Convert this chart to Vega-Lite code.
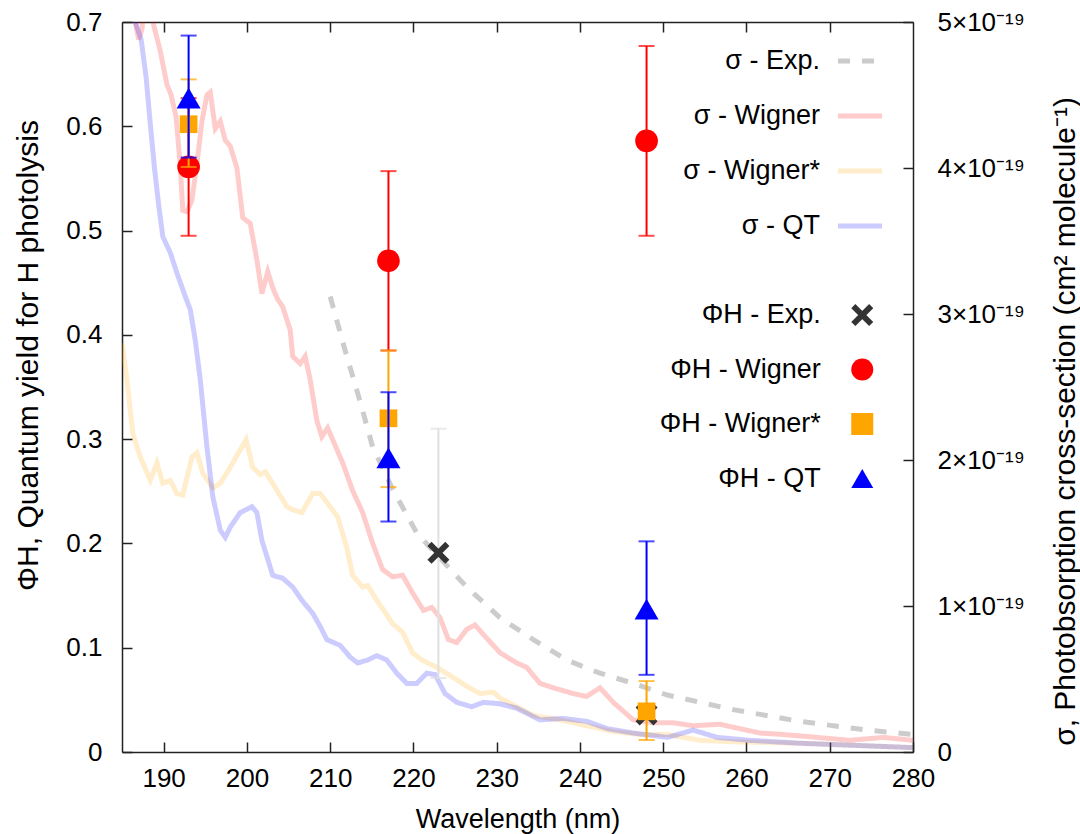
{
  "$schema": "https://vega.github.io/schema/vega-lite/v6.json",
  "width": 791,
  "height": 730,
  "autosize": {"type": "none"},
  "padding": {"left": 122, "top": 22, "right": 167, "bottom": 82},
  "background": "white",
  "config": {
    "view": {"stroke": null},
    "font": "Liberation Sans",
    "axis": {
      "grid": false,
      "domainColor": "#222222",
      "domainWidth": 1.5,
      "tickColor": "#222222",
      "tickWidth": 1.5,
      "tickSize": -10,
      "labelColor": "#000000",
      "labelFont": "Liberation Sans",
      "labelFontSize": 26,
      "titleFont": "Liberation Sans",
      "titleFontSize": 30,
      "titleFontWeight": "normal",
      "titleColor": "#000000",
      "labelFlush": false,
      "labelOverlap": false
    },
    "legend": {
      "labelFont": "Liberation Sans",
      "labelFontSize": 27,
      "labelColor": "#000000",
      "labelAlign": "right",
      "padding": 0,
      "labelLimit": 400
    }
  },
  "resolve": {
    "scale": {"y": "independent", "color": "independent", "shape": "independent", "strokeDash": "independent"},
    "axis": {"x": "independent", "y": "independent"},
    "legend": {"color": "independent", "shape": "independent", "strokeDash": "independent"}
  },
  "layer": [
    {
      "data": {"values": [
        {"series": "σ - Exp.", "nm": 210.0, "s": 3.12},
        {"series": "σ - Exp.", "nm": 211.8, "s": 2.75},
        {"series": "σ - Exp.", "nm": 213.6, "s": 2.40},
        {"series": "σ - Exp.", "nm": 215.1, "s": 2.09},
        {"series": "σ - Exp.", "nm": 217.5, "s": 1.80},
        {"series": "σ - Exp.", "nm": 220.4, "s": 1.50},
        {"series": "σ - Exp.", "nm": 223.0, "s": 1.34},
        {"series": "σ - Exp.", "nm": 226.4, "s": 1.13},
        {"series": "σ - Exp.", "nm": 230.4, "s": 0.92},
        {"series": "σ - Exp.", "nm": 234.4, "s": 0.77},
        {"series": "σ - Exp.", "nm": 238.4, "s": 0.63},
        {"series": "σ - Exp.", "nm": 242.4, "s": 0.54},
        {"series": "σ - Exp.", "nm": 246.4, "s": 0.47},
        {"series": "σ - Exp.", "nm": 250.5, "s": 0.39},
        {"series": "σ - Exp.", "nm": 258.4, "s": 0.29},
        {"series": "σ - Exp.", "nm": 266.4, "s": 0.21},
        {"series": "σ - Exp.", "nm": 274.5, "s": 0.15},
        {"series": "σ - Exp.", "nm": 280.0, "s": 0.12},

        {"series": "σ - Wigner", "nm": 185.0, "s": 5.6},
        {"series": "σ - Wigner", "nm": 186.0, "s": 5.2},
        {"series": "σ - Wigner", "nm": 186.6, "s": 5.0},
        {"series": "σ - Wigner", "nm": 187.0, "s": 4.88},
        {"series": "σ - Wigner", "nm": 187.4, "s": 4.95},
        {"series": "σ - Wigner", "nm": 187.9, "s": 5.25},
        {"series": "σ - Wigner", "nm": 188.4, "s": 5.15},
        {"series": "σ - Wigner", "nm": 188.8, "s": 4.98},
        {"series": "σ - Wigner", "nm": 189.6, "s": 4.80},
        {"series": "σ - Wigner", "nm": 190.4, "s": 4.57},
        {"series": "σ - Wigner", "nm": 190.9, "s": 4.50},
        {"series": "σ - Wigner", "nm": 191.5, "s": 4.35},
        {"series": "σ - Wigner", "nm": 192.0, "s": 4.01},
        {"series": "σ - Wigner", "nm": 192.3, "s": 3.71},
        {"series": "σ - Wigner", "nm": 192.8, "s": 3.70},
        {"series": "σ - Wigner", "nm": 193.4, "s": 3.78},
        {"series": "σ - Wigner", "nm": 194.0, "s": 4.03},
        {"series": "σ - Wigner", "nm": 194.6, "s": 4.32},
        {"series": "σ - Wigner", "nm": 195.2, "s": 4.50},
        {"series": "σ - Wigner", "nm": 195.6, "s": 4.52},
        {"series": "σ - Wigner", "nm": 196.2, "s": 4.27},
        {"series": "σ - Wigner", "nm": 196.8, "s": 4.32},
        {"series": "σ - Wigner", "nm": 197.4, "s": 4.19},
        {"series": "σ - Wigner", "nm": 198.0, "s": 4.15},
        {"series": "σ - Wigner", "nm": 198.8, "s": 4.00},
        {"series": "σ - Wigner", "nm": 199.5, "s": 3.66},
        {"series": "σ - Wigner", "nm": 200.4, "s": 3.62},
        {"series": "σ - Wigner", "nm": 201.2, "s": 3.37},
        {"series": "σ - Wigner", "nm": 201.8, "s": 3.14},
        {"series": "σ - Wigner", "nm": 202.5, "s": 3.29},
        {"series": "σ - Wigner", "nm": 203.1, "s": 3.18},
        {"series": "σ - Wigner", "nm": 203.7, "s": 3.10},
        {"series": "σ - Wigner", "nm": 204.3, "s": 3.05},
        {"series": "σ - Wigner", "nm": 205.2, "s": 2.89},
        {"series": "σ - Wigner", "nm": 205.5, "s": 2.71},
        {"series": "σ - Wigner", "nm": 206.4, "s": 2.66},
        {"series": "σ - Wigner", "nm": 207.0, "s": 2.71},
        {"series": "σ - Wigner", "nm": 207.6, "s": 2.55},
        {"series": "σ - Wigner", "nm": 208.4, "s": 2.27},
        {"series": "σ - Wigner", "nm": 209.0, "s": 2.16},
        {"series": "σ - Wigner", "nm": 209.7, "s": 2.22},
        {"series": "σ - Wigner", "nm": 210.3, "s": 2.14},
        {"series": "σ - Wigner", "nm": 211.5, "s": 1.98},
        {"series": "σ - Wigner", "nm": 212.7, "s": 1.79},
        {"series": "σ - Wigner", "nm": 213.9, "s": 1.64},
        {"series": "σ - Wigner", "nm": 215.1, "s": 1.43},
        {"series": "σ - Wigner", "nm": 216.3, "s": 1.25},
        {"series": "σ - Wigner", "nm": 217.5, "s": 1.20},
        {"series": "σ - Wigner", "nm": 218.7, "s": 1.21},
        {"series": "σ - Wigner", "nm": 219.9, "s": 1.09},
        {"series": "σ - Wigner", "nm": 221.2, "s": 0.97},
        {"series": "σ - Wigner", "nm": 222.2, "s": 0.99},
        {"series": "σ - Wigner", "nm": 223.2, "s": 0.92},
        {"series": "σ - Wigner", "nm": 224.2, "s": 0.77},
        {"series": "σ - Wigner", "nm": 225.2, "s": 0.75},
        {"series": "σ - Wigner", "nm": 226.4, "s": 0.84},
        {"series": "σ - Wigner", "nm": 227.4, "s": 0.87},
        {"series": "σ - Wigner", "nm": 228.8, "s": 0.78},
        {"series": "σ - Wigner", "nm": 230.4, "s": 0.68},
        {"series": "σ - Wigner", "nm": 232.4, "s": 0.61},
        {"series": "σ - Wigner", "nm": 233.6, "s": 0.58},
        {"series": "σ - Wigner", "nm": 235.2, "s": 0.47},
        {"series": "σ - Wigner", "nm": 236.8, "s": 0.44},
        {"series": "σ - Wigner", "nm": 239.2, "s": 0.40},
        {"series": "σ - Wigner", "nm": 240.8, "s": 0.38},
        {"series": "σ - Wigner", "nm": 242.4, "s": 0.44},
        {"series": "σ - Wigner", "nm": 244.0, "s": 0.34},
        {"series": "σ - Wigner", "nm": 246.4, "s": 0.22},
        {"series": "σ - Wigner", "nm": 248.8, "s": 0.20},
        {"series": "σ - Wigner", "nm": 251.2, "s": 0.20},
        {"series": "σ - Wigner", "nm": 253.6, "s": 0.18},
        {"series": "σ - Wigner", "nm": 256.8, "s": 0.19},
        {"series": "σ - Wigner", "nm": 258.4, "s": 0.17},
        {"series": "σ - Wigner", "nm": 261.6, "s": 0.13},
        {"series": "σ - Wigner", "nm": 264.4, "s": 0.12},
        {"series": "σ - Wigner", "nm": 268.5, "s": 0.10},
        {"series": "σ - Wigner", "nm": 272.4, "s": 0.08},
        {"series": "σ - Wigner", "nm": 276.4, "s": 0.10},
        {"series": "σ - Wigner", "nm": 280.0, "s": 0.08},

        {"series": "σ - Wigner*", "nm": 185.0, "s": 2.80},
        {"series": "σ - Wigner*", "nm": 185.6, "s": 2.55},
        {"series": "σ - Wigner*", "nm": 186.3, "s": 2.18},
        {"series": "σ - Wigner*", "nm": 187.2, "s": 2.02},
        {"series": "σ - Wigner*", "nm": 188.4, "s": 1.86},
        {"series": "σ - Wigner*", "nm": 189.2, "s": 1.98},
        {"series": "σ - Wigner*", "nm": 189.9, "s": 1.84},
        {"series": "σ - Wigner*", "nm": 190.8, "s": 1.86},
        {"series": "σ - Wigner*", "nm": 191.6, "s": 1.77},
        {"series": "σ - Wigner*", "nm": 192.3, "s": 1.76},
        {"series": "σ - Wigner*", "nm": 193.4, "s": 2.02},
        {"series": "σ - Wigner*", "nm": 194.0, "s": 2.05},
        {"series": "σ - Wigner*", "nm": 194.7, "s": 1.91},
        {"series": "σ - Wigner*", "nm": 195.9, "s": 1.81},
        {"series": "σ - Wigner*", "nm": 196.8, "s": 1.84},
        {"series": "σ - Wigner*", "nm": 198.0, "s": 1.95},
        {"series": "σ - Wigner*", "nm": 199.2, "s": 2.07},
        {"series": "σ - Wigner*", "nm": 199.9, "s": 2.14},
        {"series": "σ - Wigner*", "nm": 200.7, "s": 1.95},
        {"series": "σ - Wigner*", "nm": 201.6, "s": 1.90},
        {"series": "σ - Wigner*", "nm": 202.2, "s": 1.92},
        {"series": "σ - Wigner*", "nm": 203.1, "s": 1.84},
        {"series": "σ - Wigner*", "nm": 204.8, "s": 1.68},
        {"series": "σ - Wigner*", "nm": 205.5, "s": 1.66},
        {"series": "σ - Wigner*", "nm": 206.6, "s": 1.64},
        {"series": "σ - Wigner*", "nm": 207.9, "s": 1.77},
        {"series": "σ - Wigner*", "nm": 208.8, "s": 1.77},
        {"series": "σ - Wigner*", "nm": 210.0, "s": 1.68},
        {"series": "σ - Wigner*", "nm": 210.9, "s": 1.61},
        {"series": "σ - Wigner*", "nm": 212.0, "s": 1.40},
        {"series": "σ - Wigner*", "nm": 212.7, "s": 1.21},
        {"series": "σ - Wigner*", "nm": 213.9, "s": 1.13},
        {"series": "σ - Wigner*", "nm": 214.5, "s": 1.14},
        {"series": "σ - Wigner*", "nm": 215.6, "s": 1.04},
        {"series": "σ - Wigner*", "nm": 217.5, "s": 0.88},
        {"series": "σ - Wigner*", "nm": 218.7, "s": 0.82},
        {"series": "σ - Wigner*", "nm": 219.9, "s": 0.68},
        {"series": "σ - Wigner*", "nm": 221.0, "s": 0.63},
        {"series": "σ - Wigner*", "nm": 222.8, "s": 0.58},
        {"series": "σ - Wigner*", "nm": 224.8, "s": 0.51},
        {"series": "σ - Wigner*", "nm": 226.4, "s": 0.45},
        {"series": "σ - Wigner*", "nm": 228.0, "s": 0.40},
        {"series": "σ - Wigner*", "nm": 229.6, "s": 0.41},
        {"series": "σ - Wigner*", "nm": 230.4, "s": 0.37},
        {"series": "σ - Wigner*", "nm": 232.4, "s": 0.31},
        {"series": "σ - Wigner*", "nm": 234.4, "s": 0.25},
        {"series": "σ - Wigner*", "nm": 237.6, "s": 0.22},
        {"series": "σ - Wigner*", "nm": 240.8, "s": 0.18},
        {"series": "σ - Wigner*", "nm": 244.0, "s": 0.14},
        {"series": "σ - Wigner*", "nm": 247.2, "s": 0.12},
        {"series": "σ - Wigner*", "nm": 250.5, "s": 0.12},
        {"series": "σ - Wigner*", "nm": 254.4, "s": 0.08},
        {"series": "σ - Wigner*", "nm": 258.4, "s": 0.07},
        {"series": "σ - Wigner*", "nm": 266.4, "s": 0.06},
        {"series": "σ - Wigner*", "nm": 280.0, "s": 0.03},

        {"series": "σ - QT", "nm": 185.0, "s": 5.8},
        {"series": "σ - QT", "nm": 186.0, "s": 5.25},
        {"series": "σ - QT", "nm": 186.6, "s": 5.0},
        {"series": "σ - QT", "nm": 187.3, "s": 4.88},
        {"series": "σ - QT", "nm": 187.9, "s": 4.62},
        {"series": "σ - QT", "nm": 188.4, "s": 4.30},
        {"series": "σ - QT", "nm": 188.9, "s": 4.00},
        {"series": "σ - QT", "nm": 189.4, "s": 3.75},
        {"series": "σ - QT", "nm": 189.9, "s": 3.53},
        {"series": "σ - QT", "nm": 190.8, "s": 3.42},
        {"series": "σ - QT", "nm": 191.6, "s": 3.28},
        {"series": "σ - QT", "nm": 192.6, "s": 3.12},
        {"series": "σ - QT", "nm": 193.2, "s": 3.03},
        {"series": "σ - QT", "nm": 193.8, "s": 2.82},
        {"series": "σ - QT", "nm": 194.4, "s": 2.55},
        {"series": "σ - QT", "nm": 195.2, "s": 2.09},
        {"series": "σ - QT", "nm": 195.9, "s": 1.75},
        {"series": "σ - QT", "nm": 196.8, "s": 1.52},
        {"series": "σ - QT", "nm": 197.4, "s": 1.47},
        {"series": "σ - QT", "nm": 198.0, "s": 1.54},
        {"series": "σ - QT", "nm": 199.2, "s": 1.64},
        {"series": "σ - QT", "nm": 200.6, "s": 1.68},
        {"series": "σ - QT", "nm": 201.2, "s": 1.64},
        {"series": "σ - QT", "nm": 201.8, "s": 1.45},
        {"series": "σ - QT", "nm": 202.4, "s": 1.34},
        {"series": "σ - QT", "nm": 203.1, "s": 1.21},
        {"series": "σ - QT", "nm": 204.3, "s": 1.19},
        {"series": "σ - QT", "nm": 205.5, "s": 1.13},
        {"series": "σ - QT", "nm": 206.6, "s": 1.04},
        {"series": "σ - QT", "nm": 207.9, "s": 0.95},
        {"series": "σ - QT", "nm": 208.8, "s": 0.86},
        {"series": "σ - QT", "nm": 209.6, "s": 0.77},
        {"series": "σ - QT", "nm": 211.2, "s": 0.73},
        {"series": "σ - QT", "nm": 212.4, "s": 0.65},
        {"series": "σ - QT", "nm": 213.3, "s": 0.61},
        {"series": "σ - QT", "nm": 214.5, "s": 0.63},
        {"series": "σ - QT", "nm": 215.6, "s": 0.66},
        {"series": "σ - QT", "nm": 216.8, "s": 0.63},
        {"series": "σ - QT", "nm": 218.0, "s": 0.54},
        {"series": "σ - QT", "nm": 219.2, "s": 0.47},
        {"series": "σ - QT", "nm": 220.4, "s": 0.47},
        {"series": "σ - QT", "nm": 221.6, "s": 0.54},
        {"series": "σ - QT", "nm": 222.6, "s": 0.53},
        {"series": "σ - QT", "nm": 223.8, "s": 0.40},
        {"series": "σ - QT", "nm": 225.2, "s": 0.34},
        {"series": "σ - QT", "nm": 227.0, "s": 0.31},
        {"series": "σ - QT", "nm": 228.4, "s": 0.34},
        {"series": "σ - QT", "nm": 230.4, "s": 0.33},
        {"series": "σ - QT", "nm": 232.4, "s": 0.30},
        {"series": "σ - QT", "nm": 235.2, "s": 0.22},
        {"series": "σ - QT", "nm": 238.0, "s": 0.23},
        {"series": "σ - QT", "nm": 240.8, "s": 0.21},
        {"series": "σ - QT", "nm": 243.3, "s": 0.16},
        {"series": "σ - QT", "nm": 246.4, "s": 0.13},
        {"series": "σ - QT", "nm": 250.5, "s": 0.10},
        {"series": "σ - QT", "nm": 253.6, "s": 0.15},
        {"series": "σ - QT", "nm": 256.5, "s": 0.10},
        {"series": "σ - QT", "nm": 260.4, "s": 0.08},
        {"series": "σ - QT", "nm": 266.4, "s": 0.06},
        {"series": "σ - QT", "nm": 280.0, "s": 0.03}
      ]},
      "mark": {"type": "line", "strokeWidth": 5, "opacity": 0.2, "clip": true},
      "encoding": {
        "x": {
          "field": "nm", "type": "quantitative",
          "scale": {"domain": [185, 280], "nice": false, "zero": false},
          "axis": {
            "orient": "bottom",
            "values": [190, 200, 210, 220, 230, 240, 250, 260, 270, 280],
            "labelPadding": 23,
            "title": "Wavelength (nm)",
            "titleFontSize": 27,
            "titleY": 75,
            "titleBaseline": "alphabetic"
          }
        },
        "y": {
          "field": "s", "type": "quantitative",
          "scale": {"domain": [0, 5], "nice": false},
          "axis": {
            "orient": "right",
            "values": [0, 1, 2, 3, 4, 5],
            "labelExpr": "datum.value == 0 ? '0' : datum.value + '×10⁻¹⁹'",
            "labelPadding": 34,
            "title": "σ, Photobsorption cross-section (cm² molecule⁻¹)",
            "titleAngle": -90,
            "titleX": 152,
            "titleY": 399,
            "titleAlign": "center",
            "titleBaseline": "middle"
          }
        },
        "color": {
          "field": "series", "type": "nominal",
          "scale": {"domain": ["σ - Exp.", "σ - Wigner", "σ - Wigner*", "σ - QT"], "range": ["#000000", "#ff0000", "#ffa500", "#0000ff"]},
          "legend": {"title": null, "orient": "none", "legendX": 713.5, "legendY": 14.5, "symbolType": "stroke", "symbolSize": 1936, "symbolStrokeWidth": 5, "labelOffset": -64.5, "rowPadding": 17}
        },
        "strokeDash": {
          "field": "series", "type": "nominal",
          "scale": {"domain": ["σ - Exp.", "σ - Wigner", "σ - Wigner*", "σ - QT"], "range": [[12, 12], [1, 0], [1, 0], [1, 0]]},
          "legend": {"title": null, "orient": "none", "legendX": 713.5, "legendY": 14.5, "symbolType": "stroke", "symbolSize": 1936, "symbolStrokeWidth": 5, "labelOffset": -64.5, "rowPadding": 17}
        }
      }
    },
    {
      "data": {"values": [
        {"series": "ΦH - Exp.", "nm": 223, "phi": 0.191, "lo": 0.071, "hi": 0.310},
        {"series": "ΦH - Exp.", "nm": 248, "phi": 0.036, "lo": null, "hi": null},
        {"series": "ΦH - Wigner", "nm": 193, "phi": 0.561, "lo": 0.495, "hi": 0.627},
        {"series": "ΦH - Wigner", "nm": 217, "phi": 0.471, "lo": 0.385, "hi": 0.557},
        {"series": "ΦH - Wigner", "nm": 248, "phi": 0.586, "lo": 0.495, "hi": 0.677},
        {"series": "ΦH - Wigner*", "nm": 193, "phi": 0.602, "lo": 0.561, "hi": 0.645},
        {"series": "ΦH - Wigner*", "nm": 217, "phi": 0.320, "lo": 0.254, "hi": 0.385},
        {"series": "ΦH - Wigner*", "nm": 248, "phi": 0.039, "lo": 0.0115, "hi": 0.068},
        {"series": "ΦH - QT", "nm": 193, "phi": 0.627, "lo": 0.570, "hi": 0.687},
        {"series": "ΦH - QT", "nm": 217, "phi": 0.282, "lo": 0.221, "hi": 0.345},
        {"series": "ΦH - QT", "nm": 248, "phi": 0.137, "lo": 0.074, "hi": 0.202}
      ]},
      "encoding": {
        "x": {
          "field": "nm", "type": "quantitative",
          "scale": {"domain": [185, 280], "nice": false, "zero": false},
          "axis": {"orient": "top", "values": [190, 200, 210, 220, 230, 240, 250, 260, 270], "labels": false, "title": null}
        },
        "color": {
          "field": "series", "type": "nominal",
          "scale": {"domain": ["ΦH - Exp.", "ΦH - Wigner", "ΦH - Wigner*", "ΦH - QT"], "range": ["#333333", "#ff0000", "#ffa500", "#0000ff"]},
          "legend": {"title": null, "orient": "none", "legendX": 726.75, "legendY": 279.5, "symbolSize": 484, "symbolStrokeWidth": 0, "labelOffset": -55, "rowPadding": 26.5}
        },
        "shape": {
          "field": "series", "type": "nominal",
          "scale": {"domain": ["ΦH - Exp.", "ΦH - Wigner", "ΦH - Wigner*", "ΦH - QT"], "range": ["M1,0.625L0.625,1L-1,-0.625L-0.625,-1ZM1,-0.625L-0.625,1L-1,0.625L0.625,-1Z", "circle", "square", "triangle-up"]},
          "legend": {"title": null, "orient": "none", "legendX": 726.75, "legendY": 279.5, "symbolSize": 484, "symbolStrokeWidth": 0, "labelOffset": -55, "rowPadding": 26.5}
        }
      },
      "layer": [
        {
          "transform": [{"filter": "datum.series == 'ΦH - Exp.' && datum.lo != null"}],
          "mark": {"type": "errorbar", "ticks": {"size": 16}, "thickness": 2},
          "encoding": {
            "y": {"field": "lo", "type": "quantitative", "scale": {"domain": [0, 0.7], "nice": false},
              "axis": {"orient": "left", "values": [0, 0.1, 0.2, 0.3, 0.4, 0.5, 0.6, 0.7], "labelExpr": "datum.value == 0 ? '0' : format(datum.value, '.1f')", "labelPadding": 30, "title": "ΦH, Quantum yield for H photolysis", "titleX": -94, "titleY": 333, "titleAngle": -90, "titleAlign": "center", "titleBaseline": "middle"}},
            "y2": {"field": "hi"},
            "color": {"value": "#e0e0e0"}
          }
        },
        {
          "transform": [{"filter": "datum.series == 'ΦH - Exp.'"}],
          "mark": {"type": "point", "filled": true, "opacity": 1, "size": 484},
          "encoding": {
            "y": {"field": "phi", "type": "quantitative", "scale": {"domain": [0, 0.7], "nice": false},
              "axis": {"orient": "left", "values": [0, 0.1, 0.2, 0.3, 0.4, 0.5, 0.6, 0.7], "labelExpr": "datum.value == 0 ? '0' : format(datum.value, '.1f')", "labelPadding": 30, "title": "ΦH, Quantum yield for H photolysis", "titleX": -94, "titleY": 333, "titleAngle": -90, "titleAlign": "center", "titleBaseline": "middle"}}
          }
        },
        {
          "transform": [{"filter": "datum.series == 'ΦH - Wigner'"}],
          "mark": {"type": "errorbar", "ticks": {"size": 16}, "thickness": 2},
          "encoding": {
            "y": {"field": "lo", "type": "quantitative", "scale": {"domain": [0, 0.7], "nice": false},
              "axis": {"orient": "left", "values": [0, 0.1, 0.2, 0.3, 0.4, 0.5, 0.6, 0.7], "labelExpr": "datum.value == 0 ? '0' : format(datum.value, '.1f')", "labelPadding": 30, "title": "ΦH, Quantum yield for H photolysis", "titleX": -94, "titleY": 333, "titleAngle": -90, "titleAlign": "center", "titleBaseline": "middle"}},
            "y2": {"field": "hi"},
            "color": {"value": "#ff0000"}
          }
        },
        {
          "transform": [{"filter": "datum.series == 'ΦH - Wigner'"}],
          "mark": {"type": "point", "filled": true, "opacity": 1, "size": 515},
          "encoding": {
            "y": {"field": "phi", "type": "quantitative", "scale": {"domain": [0, 0.7], "nice": false},
              "axis": {"orient": "left", "values": [0, 0.1, 0.2, 0.3, 0.4, 0.5, 0.6, 0.7], "labelExpr": "datum.value == 0 ? '0' : format(datum.value, '.1f')", "labelPadding": 30, "title": "ΦH, Quantum yield for H photolysis", "titleX": -94, "titleY": 333, "titleAngle": -90, "titleAlign": "center", "titleBaseline": "middle"}}
          }
        },
        {
          "transform": [{"filter": "datum.series == 'ΦH - Wigner*'"}],
          "mark": {"type": "errorbar", "ticks": {"size": 16}, "thickness": 2},
          "encoding": {
            "y": {"field": "lo", "type": "quantitative", "scale": {"domain": [0, 0.7], "nice": false},
              "axis": {"orient": "left", "values": [0, 0.1, 0.2, 0.3, 0.4, 0.5, 0.6, 0.7], "labelExpr": "datum.value == 0 ? '0' : format(datum.value, '.1f')", "labelPadding": 30, "title": "ΦH, Quantum yield for H photolysis", "titleX": -94, "titleY": 333, "titleAngle": -90, "titleAlign": "center", "titleBaseline": "middle"}},
            "y2": {"field": "hi"},
            "color": {"value": "#ffa500"}
          }
        },
        {
          "transform": [{"filter": "datum.series == 'ΦH - Wigner*'"}],
          "mark": {"type": "point", "filled": true, "opacity": 1, "size": 313},
          "encoding": {
            "y": {"field": "phi", "type": "quantitative", "scale": {"domain": [0, 0.7], "nice": false},
              "axis": {"orient": "left", "values": [0, 0.1, 0.2, 0.3, 0.4, 0.5, 0.6, 0.7], "labelExpr": "datum.value == 0 ? '0' : format(datum.value, '.1f')", "labelPadding": 30, "title": "ΦH, Quantum yield for H photolysis", "titleX": -94, "titleY": 333, "titleAngle": -90, "titleAlign": "center", "titleBaseline": "middle"}}
          }
        },
        {
          "transform": [{"filter": "datum.series == 'ΦH - QT'"}],
          "mark": {"type": "errorbar", "ticks": {"size": 16}, "thickness": 2},
          "encoding": {
            "y": {"field": "lo", "type": "quantitative", "scale": {"domain": [0, 0.7], "nice": false},
              "axis": {"orient": "left", "values": [0, 0.1, 0.2, 0.3, 0.4, 0.5, 0.6, 0.7], "labelExpr": "datum.value == 0 ? '0' : format(datum.value, '.1f')", "labelPadding": 30, "title": "ΦH, Quantum yield for H photolysis", "titleX": -94, "titleY": 333, "titleAngle": -90, "titleAlign": "center", "titleBaseline": "middle"}},
            "y2": {"field": "hi"},
            "color": {"value": "#0000ff"}
          }
        },
        {
          "transform": [{"filter": "datum.series == 'ΦH - QT'"}],
          "mark": {"type": "point", "filled": true, "opacity": 1, "size": 576},
          "encoding": {
            "y": {"field": "phi", "type": "quantitative", "scale": {"domain": [0, 0.7], "nice": false},
              "axis": {"orient": "left", "values": [0, 0.1, 0.2, 0.3, 0.4, 0.5, 0.6, 0.7], "labelExpr": "datum.value == 0 ? '0' : format(datum.value, '.1f')", "labelPadding": 30, "title": "ΦH, Quantum yield for H photolysis", "titleX": -94, "titleY": 333, "titleAngle": -90, "titleAlign": "center", "titleBaseline": "middle"}}
          }
        }
      ]
    }
  ]
}
